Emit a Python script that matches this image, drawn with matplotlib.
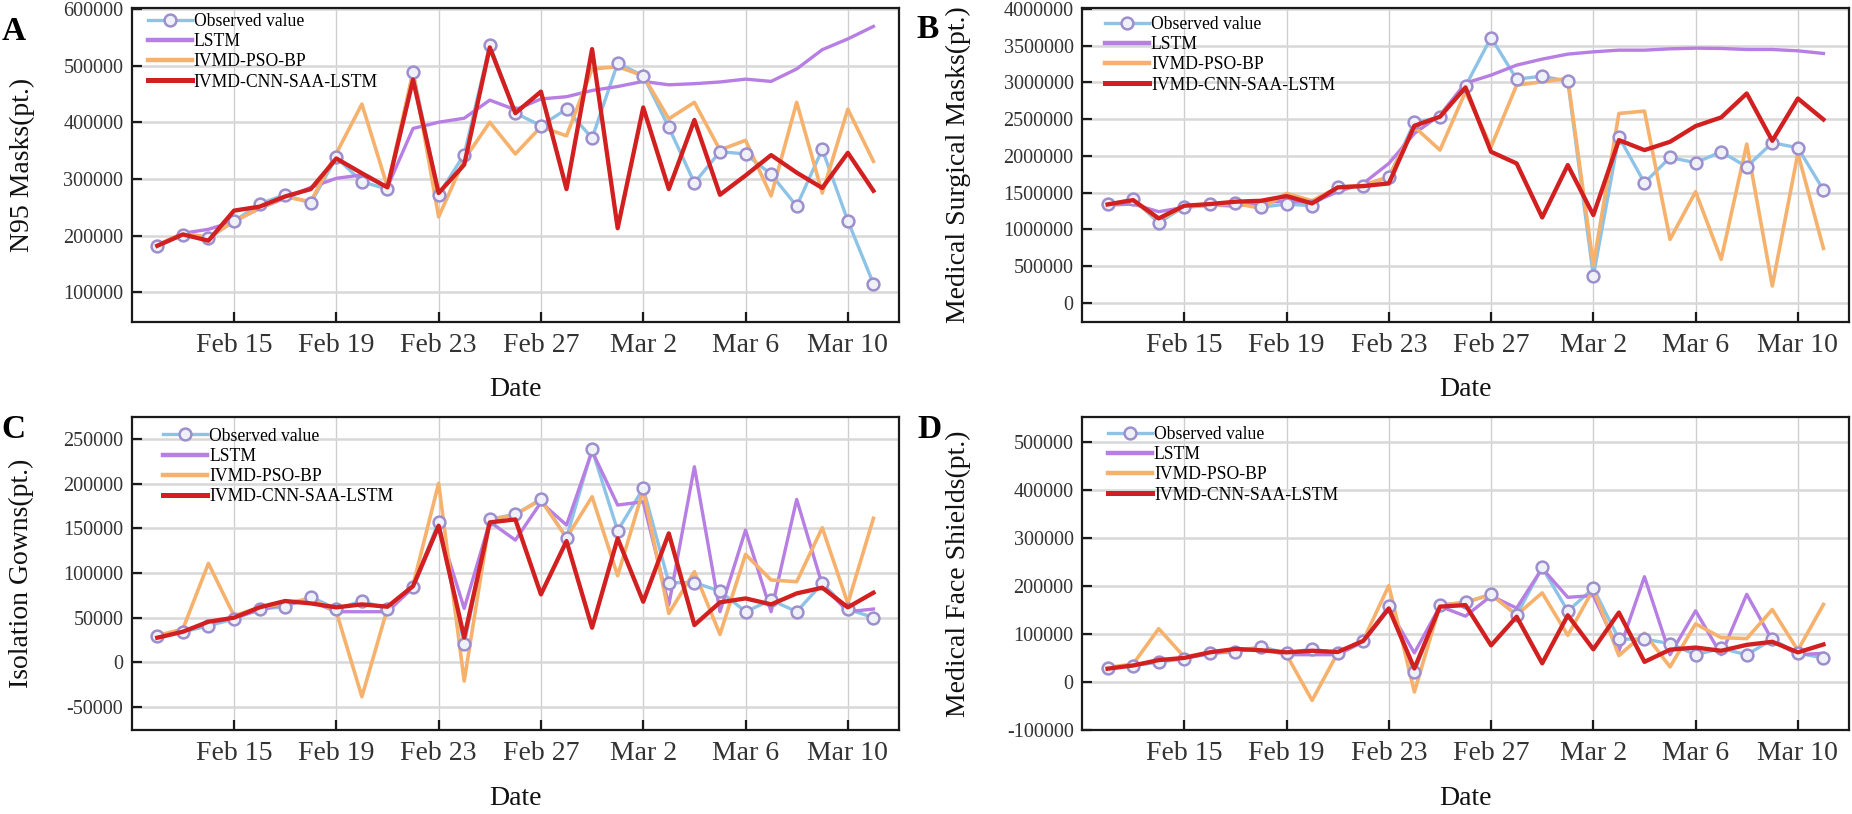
import matplotlib
matplotlib.use("Agg")
import matplotlib.pyplot as plt
import numpy as np
import pandas as pd

plt.rcParams['font.family'] = ['Liberation Serif', 'DejaVu Serif']

dates = pd.date_range('2020-02-12', '2020-03-11', freq='D')
tick_dates = pd.to_datetime(['2020-02-15', '2020-02-19', '2020-02-23', '2020-02-27',
                             '2020-03-02', '2020-03-06', '2020-03-10'])
tick_labels = ['Feb 15', 'Feb 19', 'Feb 23', 'Feb 27', 'Mar 2', 'Mar 6', 'Mar 10']
series_names = ['Observed value', 'LSTM', 'IVMD-PSO-BP', 'IVMD-CNN-SAA-LSTM']

# Panel A: N95 masks
obs_a = [181000, 201000, 195000, 225000, 256000, 272000, 257000, 338000, 295000, 282000,
         488000, 272000, 343000, 536000, 416000, 394000, 423000, 372000,
         504000, 482000, 391000, 293000, 348000, 344000, 308000, 252000, 352000, 226000, 115000]
lstm_a = [183000, 204000, 211000, 225000, 248000, 266000, 285000, 301000, 307000, 286000,
          389000, 400000, 407000, 439000, 422000, 441000, 445000, 456000,
          463000, 472000, 466000, 468000, 471000, 476000, 472000, 494000, 528000, 547000, 569000]
pso_a = [183000, 204000, 197000, 225000, 248000, 268000, 260000, 345000, 432000, 286000,
         489000, 233000, 334000, 400000, 344000, 392000, 376000, 494000,
         498000, 482000, 406000, 435000, 351000, 368000, 270000, 435000, 275000, 423000, 331000]
cnn_a = [182000, 202000, 191000, 244000, 251000, 269000, 282000, 336000, 310000, 285000,
         475000, 275000, 325000, 532000, 416000, 454000, 282000, 529000,
         213000, 426000, 282000, 404000, 272000, 306000, 342000, 311000, 284000, 346000, 279000]

# Panel B: medical surgical masks
obs_b = [1338000, 1411000, 1089000, 1307000, 1338000, 1361000, 1300000, 1343000, 1320000, 1579000,
         1588000, 1706000, 2455000, 2523000, 2949000, 3611000, 3044000, 3085000,
         3017000, 363000, 2259000, 1633000, 1978000, 1906000, 2055000, 1851000, 2178000, 2110000, 1534000]
lstm_b = [1329000, 1343000, 1239000, 1298000, 1329000, 1316000, 1361000, 1388000, 1361000, 1511000,
          1624000, 1896000, 2305000, 2554000, 2990000, 3099000, 3235000, 3317000,
          3385000, 3416000, 3439000, 3439000, 3457000, 3466000, 3462000, 3448000, 3448000, 3430000, 3394000]
pso_b = [1329000, 1397000, 1125000, 1307000, 1320000, 1352000, 1284000, 1488000, 1388000, 1570000,
         1602000, 1715000, 2396000, 2078000, 2872000, 2123000, 2963000, 3008000,
         3053000, 513000, 2577000, 2609000, 862000, 1511000, 590000, 2160000, 227000, 2033000, 740000]
cnn_b = [1338000, 1397000, 1148000, 1320000, 1343000, 1375000, 1388000, 1452000, 1352000, 1570000,
         1588000, 1624000, 2409000, 2532000, 2931000, 2055000, 1896000, 1161000,
         1874000, 1193000, 2214000, 2078000, 2191000, 2405000, 2523000, 2849000, 2205000, 2781000, 2495000]

# Panel C: isolation gowns
obs_c = [30000, 34000, 41000, 48500, 59700, 62300, 73500, 59700, 68700, 59700,
         84700, 157400, 20100, 160400, 165600, 182800, 139500, 238400,
         147400, 194800, 89200, 89200, 79800, 56700, 69800, 56700, 88400, 59700, 50000]
lstm_c = [30000, 35000, 43700, 50000, 58600, 65300, 68700, 56700, 56700, 56700,
          83600, 151900, 60400, 157400, 136900, 179100, 153700, 236500,
          176100, 179800, 64200, 219000, 56700, 148100, 56700, 182400, 86600, 56700, 59700]
pso_c = [30000, 37300, 110800, 52200, 61600, 66000, 71600, 56700, -38400, 60400,
         86600, 200400, -20900, 159300, 165600, 181700, 139500, 185400,
         97000, 192900, 54800, 101500, 31300, 120900, 92200, 90300, 150700, 66000, 161200]
cnn_c = [27600, 34300, 45500, 50000, 61600, 68700, 66000, 61600, 64900, 62300,
         85400, 153000, 28000, 156700, 160000, 76100, 135800, 38800,
         138800, 67900, 144400, 41800, 67200, 71600, 64900, 77200, 83600, 61600, 78000]

# Panel D: medical face shields (same values as shown in the reference)
obs_d = list(obs_c)
lstm_d = list(lstm_c)
pso_d = list(pso_c)
cnn_d = list(cnn_c)

C_OBS = '#8EC3E8'
C_MK_EDGE = '#9D8FCD'
C_MK_FACE = '#EFF1F9'
C_LSTM = '#B77EE3'
C_PSO = '#F6B26D'
C_CNN = '#D21F1F'

W, H = 1852, 814
fig = plt.figure(figsize=(W / 100, H / 100), dpi=100)


def px_axes(l, r, t, b):
    return fig.add_axes([l / W, 1 - b / H, (r - l) / W, (b - t) / H])


panels = [
    dict(box=(131.7, 899, 8.3, 321.7), obs=obs_a, lstm=lstm_a, pso=pso_a, cnn=cnn_a,
         ylim=(48000, 601000), yticks=np.arange(100000, 600001, 100000),
         ylabel='N95 Masks(pt.)', letter='A', letter_xy=(14, 31), leg=(0.021, 0.985), ylab_x=-0.126),
    dict(box=(1082, 1849, 8.3, 321.7), obs=obs_b, lstm=lstm_b, pso=pso_b, cnn=cnn_b,
         ylim=(-259000, 4009000), yticks=np.arange(0, 4000001, 500000),
         ylabel='Medical Surgical Masks(pt.)', letter='B', letter_xy=(928, 30), leg=(0.03, 0.975), ylab_x=-0.145),
    dict(box=(131.7, 899, 416.7, 730), obs=obs_c, lstm=lstm_c, pso=pso_c, cnn=cnn_c,
         ylim=(-75700, 275000), yticks=np.arange(-50000, 250001, 50000),
         ylabel='Isolation Gowns(pt.)', letter='C', letter_xy=(13, 430), leg=(0.041, 0.965), ylab_x=-0.127),
    dict(box=(1082, 1849, 416.7, 730), obs=obs_d, lstm=lstm_d, pso=pso_d, cnn=cnn_d,
         ylim=(-100000, 552000), yticks=np.arange(-100000, 500001, 100000),
         ylabel='Medical Face Shields(pt.)', letter='D', letter_xy=(929, 430), leg=(0.034, 0.97), ylab_x=-0.145),
]

for p in panels:
    ax = px_axes(*p['box'])
    ax.plot(dates, p['obs'], color=C_OBS, lw=2.4, zorder=2, solid_joinstyle='miter')
    ax.plot(dates, p['lstm'], color=C_LSTM, lw=2.4, zorder=3, label=series_names[1])
    ax.plot(dates, p['pso'], color=C_PSO, lw=2.6, zorder=4, label=series_names[2])
    ax.plot(dates, p['obs'], ls='none', marker='o', ms=8.5, mec=C_MK_EDGE, mfc=C_MK_FACE,
            mew=1.8, zorder=5)
    ax.plot(dates, p['cnn'], color=C_CNN, lw=3.1, zorder=6, label=series_names[3])

    ax.set_xlim(pd.Timestamp('2020-02-11'), pd.Timestamp('2020-03-12'))
    ax.set_ylim(*p['ylim'])
    ax.set_xticks(tick_dates)
    ax.set_xticklabels(tick_labels)
    ax.set_yticks(p['yticks'])
    ax.set_yticklabels([f'{int(v)}' for v in p['yticks']])

    ax.grid(axis='x', color='#cfcfcf', lw=1.0, zorder=0)
    ax.grid(axis='y', color='#d8d8d8', lw=1.8, zorder=0)
    ax.set_axisbelow(True)

    for s in ax.spines.values():
        s.set_linewidth(1.6)
        s.set_color('#1a1a1a')
    ax.tick_params(axis='both', direction='in', length=7, width=1.6, colors='#1a1a1a')
    ax.tick_params(axis='x', labelsize=20, pad=8, labelcolor='#333333')
    ax.tick_params(axis='y', labelsize=14.5, pad=6, labelcolor='#333333')

    ax.set_ylabel(p['ylabel'], fontsize=20, color='#111111')
    ax.yaxis.set_label_coords(p['ylab_x'], 0.5)
    ax.set_xlabel('Date', fontsize=20, labelpad=14, color='#111111')

    from matplotlib.lines import Line2D
    h_obs = Line2D([], [], color=C_OBS, lw=2.4, marker='o', ms=8.5, mec=C_MK_EDGE,
                   mfc=C_MK_FACE, mew=1.8)
    h_lstm = Line2D([], [], color=C_LSTM, lw=3.2)
    h_pso = Line2D([], [], color=C_PSO, lw=3.2)
    h_cnn = Line2D([], [], color=C_CNN, lw=3.6)
    ax.legend([h_obs, h_lstm, h_pso, h_cnn], series_names, loc='upper left',
              bbox_to_anchor=p['leg'], frameon=False, fontsize=12.7, borderpad=0,
              borderaxespad=0, handlelength=2.5, handletextpad=0.1, labelspacing=0.18,
              numpoints=1)

    fig.text(p['letter_xy'][0] / W, 1 - p['letter_xy'][1] / H, p['letter'],
             fontsize=24, fontweight='bold', ha='center', va='center')

fig.savefig('out.png', dpi=100)
